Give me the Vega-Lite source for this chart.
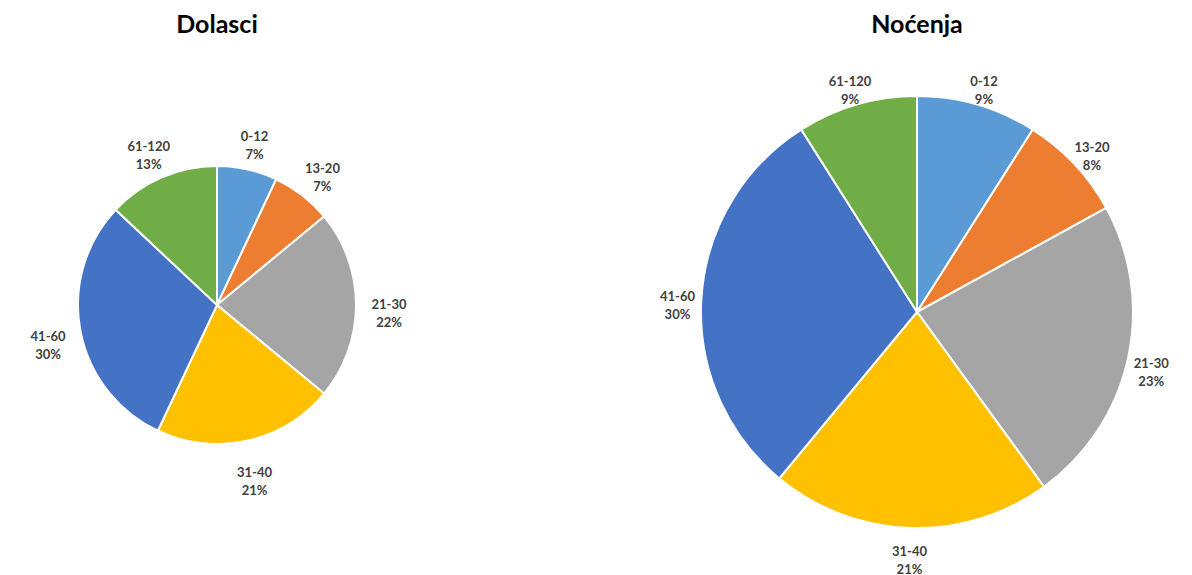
{
  "$schema": "https://vega.github.io/schema/vega-lite/v6.json",
  "background": "white",
  "padding": {"top": 13, "left": 0, "right": 0, "bottom": 0},
  "spacing": 208,
  "config": {
    "view": {"stroke": null},
    "title": {"fontSize": 25, "font": "Lato", "fontWeight": "bold", "color": "#000000", "anchor": "middle", "offset": 10}
  },
  "datasets": {
    "d": [
      {"panel": "Dolasci", "grupa": "0-12", "udio": 7, "red": 1},
      {"panel": "Dolasci", "grupa": "13-20", "udio": 7, "red": 2},
      {"panel": "Dolasci", "grupa": "21-30", "udio": 22, "red": 3},
      {"panel": "Dolasci", "grupa": "31-40", "udio": 21, "red": 4},
      {"panel": "Dolasci", "grupa": "41-60", "udio": 30, "red": 5},
      {"panel": "Dolasci", "grupa": "61-120", "udio": 13, "red": 6},
      {"panel": "Noćenja", "grupa": "0-12", "udio": 9, "red": 1},
      {"panel": "Noćenja", "grupa": "13-20", "udio": 8, "red": 2},
      {"panel": "Noćenja", "grupa": "21-30", "udio": 23, "red": 3},
      {"panel": "Noćenja", "grupa": "31-40", "udio": 21, "red": 4},
      {"panel": "Noćenja", "grupa": "41-60", "udio": 30, "red": 5},
      {"panel": "Noćenja", "grupa": "61-120", "udio": 9, "red": 6}
    ]
  },
  "hconcat": [
    {
      "title": "Dolasci",
      "width": 434,
      "height": 514,
      "data": {"name": "d"},
      "transform": [
        {"filter": "datum.panel == 'Dolasci'"},
        {"calculate": "[datum.grupa, datum.udio + '%']", "as": "lbl"}
      ],
      "encoding": {
        "theta": {"field": "udio", "type": "quantitative", "stack": true},
        "order": {"field": "red", "type": "quantitative"}
      },
      "layer": [
        {
          "mark": {"type": "arc", "outerRadius": 139, "stroke": "white", "strokeWidth": 2},
          "encoding": {
            "color": {
              "field": "grupa", "type": "nominal", "legend": null,
              "scale": {"domain": ["0-12", "13-20", "21-30", "31-40", "41-60", "61-120"],
                        "range": ["#5B9BD5", "#ED7D31", "#A5A5A5", "#FFC000", "#4472C4", "#70AD47"]}
            }
          }
        },
        {
          "mark": {"type": "text", "radius": 172, "font": "Lato", "fontWeight": "bold", "fontSize": 13, "lineHeight": 18, "color": "#404040", "align": "center", "baseline": "middle"},
          "encoding": {"text": {"field": "lbl"}}
        }
      ]
    },
    {
      "title": "Noćenja",
      "width": 550,
      "height": 528,
      "data": {"name": "d"},
      "transform": [
        {"filter": "datum.panel == 'Noćenja'"},
        {"calculate": "[datum.grupa, datum.udio + '%']", "as": "lbl"}
      ],
      "encoding": {
        "theta": {"field": "udio", "type": "quantitative", "stack": true},
        "order": {"field": "red", "type": "quantitative"}
      },
      "layer": [
        {
          "mark": {"type": "arc", "outerRadius": 216, "stroke": "white", "strokeWidth": 2},
          "encoding": {
            "color": {
              "field": "grupa", "type": "nominal", "legend": null,
              "scale": {"domain": ["0-12", "13-20", "21-30", "31-40", "41-60", "61-120"],
                        "range": ["#5B9BD5", "#ED7D31", "#A5A5A5", "#FFC000", "#4472C4", "#70AD47"]}
            }
          }
        },
        {
          "mark": {"type": "text", "radius": 240, "font": "Lato", "fontWeight": "bold", "fontSize": 13, "lineHeight": 18, "color": "#404040", "align": "center", "baseline": "middle"},
          "encoding": {"text": {"field": "lbl"}}
        }
      ]
    }
  ]
}
